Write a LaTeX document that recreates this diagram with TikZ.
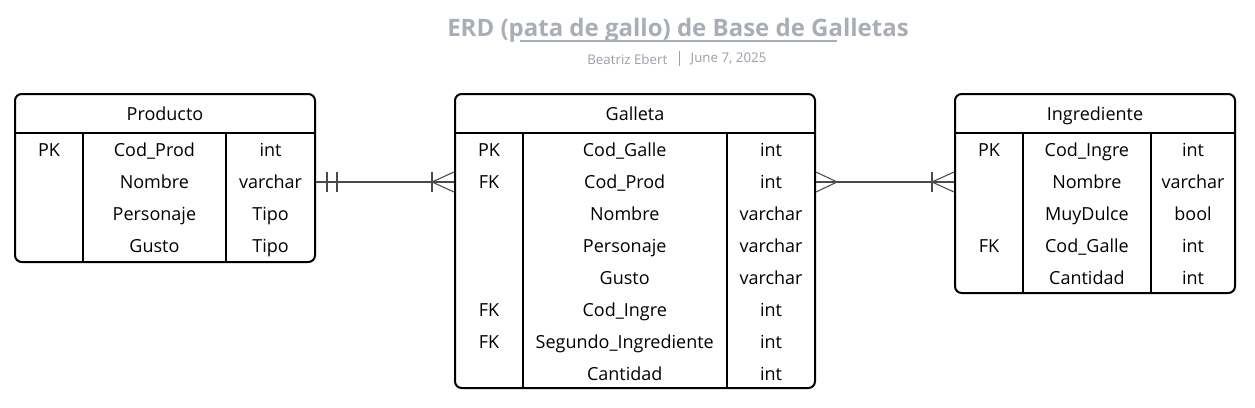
\documentclass[tikz,border=0pt]{standalone}
\usepackage{fontspec}
\setmainfont{Open Sans}
\usetikzlibrary{positioning, calc}
\definecolor{titlegray}{HTML}{A9ADB6}
\definecolor{subgray}{HTML}{9A9EA6}
\definecolor{linkgray}{HTML}{4A4A4A}

\begin{document}
\begin{tikzpicture}[x=0.75pt, y=-0.75pt,
    tbl/.style={draw, line width=1.5pt, rounded corners=5pt, inner sep=0pt},
    rule/.style={line width=1.2pt},
    cell/.style={font=\fontsize{13.5}{16}\selectfont, inner sep=0pt, text height=10pt, text depth=0.4pt},
    link/.style={draw=linkgray, line width=0.8pt}]
\useasboundingbox (0,0) rectangle (1255,407);

% title and subtitle
\node[font=\fontsize{18}{22}\selectfont\bfseries, text=titlegray] (title) at (678,30) {ERD (pata de gallo) de Base de Galletas};
\draw[titlegray, line width=1.5pt] (520,41) -- (837,41);
\node[font=\fontsize{10}{12}\selectfont, text=subgray, anchor=east] (author) at (672,59) {Beatriz Ebert};
\node[font=\fontsize{10}{12}\selectfont, text=subgray, anchor=west] (date) at (686,59) {June 7, 2025};
\draw[subgray, line width=0.6pt] (679,51) -- (679,66);

% Producto
\node[tbl, minimum width=225pt, minimum height=126pt] (prod) at (165,178) {};
\node[cell] (prod-h) at (165,114) {Producto};
\draw[rule] (15,133) -- (315,133);
\draw[rule] (82.7,133) -- (82.7,262);
\draw[rule] (226,133) -- (226,262);
\foreach \k/\n/\t [count=\i] in {PK/Cod\_Prod/int, {}/Nombre/varchar, {}/Personaje/Tipo, {}/Gusto/Tipo}
{
  \node[cell] (prod-k\i) at (49,118+32*\i) {\k};
  \node[cell] (prod-\i) at (154.4,118+32*\i) {\n};
  \node[cell] (prod-t\i) at (270.5,118+32*\i) {\t};
}

% Galleta
\node[tbl, minimum width=270pt, minimum height=220.5pt] (gal) at (635,241) {};
\node[cell] (gal-h) at (635,114) {Galleta};
\draw[rule] (455,133) -- (815,133);
\draw[rule] (522.7,133) -- (522.7,388);
\draw[rule] (726.7,133) -- (726.7,388);
\foreach \k/\n/\t [count=\i] in {PK/Cod\_Galle/int, FK/Cod\_Prod/int, {}/Nombre/varchar, {}/Personaje/varchar, {}/Gusto/varchar, FK/Cod\_Ingre/int, FK/Segundo\_Ingrediente/int, {}/Cantidad/int}
{
  \node[cell] (gal-k\i) at (489,118+32*\i) {\k};
  \node[cell] (gal-\i) at (624.7,118+32*\i) {\n};
  \node[cell] (gal-t\i) at (771,118+32*\i) {\t};
}

% Ingrediente
\node[tbl, minimum width=210pt, minimum height=149.25pt] (ingr) at (1095,193.5) {};
\node[cell] (ingr-h) at (1095,114) {Ingrediente};
\draw[rule] (955,133) -- (1235,133);
\draw[rule] (1022.7,133) -- (1022.7,293);
\draw[rule] (1151,133) -- (1151,293);
\foreach \k/\n/\t [count=\i] in {PK/Cod\_Ingre/int, {}/Nombre/varchar, {}/MuyDulce/bool, FK/Cod\_Galle/int, {}/Cantidad/int}
{
  \node[cell] (ingr-k\i) at (989,118+32*\i) {\k};
  \node[cell] (ingr-\i) at (1086.9,118+32*\i) {\n};
  \node[cell] (ingr-t\i) at (1193,118+32*\i) {\t};
}

% relationships (crow's foot)
\draw[link] (prod.east |- prod-2) -- (gal.west |- gal-2);
\draw[link] ($(prod.east |- prod-2)+(11,-10)$) -- ++(0,20);
\draw[link] ($(prod.east |- prod-2)+(21,-10)$) -- ++(0,20);
\draw[link] ($(gal.west |- gal-2)+(-22,-10)$) -- ++(0,20);
\draw[link] ($(gal.west |- gal-2)+(0,-10)$) -- ++(-22,10) -- ++(22,10);

\draw[link] (gal.east |- gal-2) -- (ingr.west |- gal-2);
\draw[link] ($(gal.east |- gal-2)+(0,-10)$) -- ++(21,10) -- ++(-21,10);
\draw[link] ($(ingr.west |- gal-2)+(-22,-10)$) -- ++(0,20);
\draw[link] ($(ingr.west |- gal-2)+(0,-10)$) -- ++(-22,10) -- ++(22,10);
\end{tikzpicture}
\end{document}
